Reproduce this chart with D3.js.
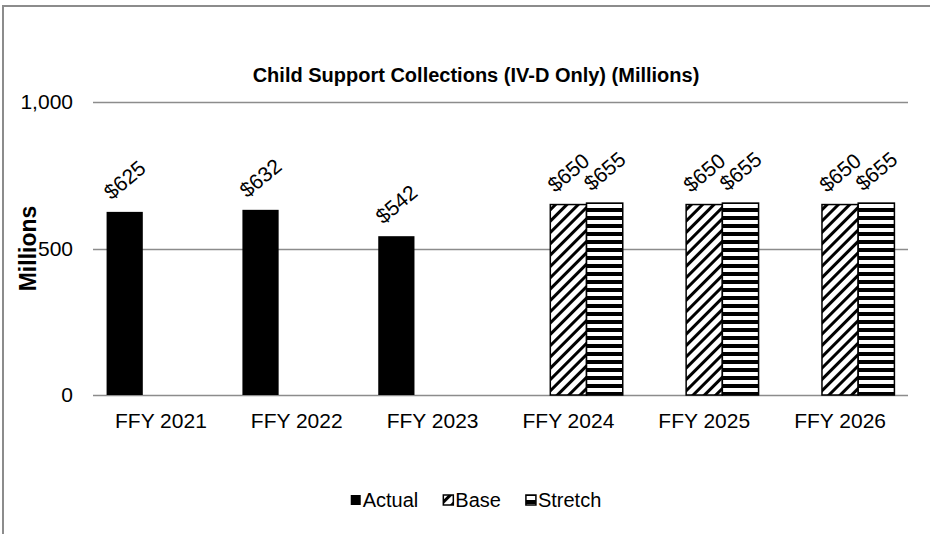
<!DOCTYPE html>
<html>
<head>
<meta charset="utf-8">
<script src="https://cdn.jsdelivr.net/npm/d3@7"></script>
<style>
  html, body { margin: 0; padding: 0; background: #fff; }
  svg { display: block; }
  text { font-family: "Liberation Sans", Arial, Helvetica, sans-serif; fill: #000; }
</style>
</head>
<body>
<svg id="chart" width="930" height="534"></svg>
<script>
// ---- data ----
const categories = ["FFY 2021", "FFY 2022", "FFY 2023", "FFY 2024", "FFY 2025", "FFY 2026"];
const seriesNames = ["Actual", "Base", "Stretch"];
const actualValues  = [625, 632, 542, null, null, null];
const baseValues    = [null, null, null, 650, 650, 650];
const stretchValues = [null, null, null, 655, 655, 655];
const yTickValues = [0, 500, 1000];
const chartTitle = "Child Support Collections (IV-D Only) (Millions)";
const yAxisTitle = "Millions";

const seriesValues = { Actual: actualValues, Base: baseValues, Stretch: stretchValues };

// ---- layout ----
const W = 930, H = 534;
const plot = { left: 93, right: 908, top: 102, bottom: 395 };
const gridColor = "#8c8c8c";
const fontSize = "21px";

const svg = d3.select("#chart");
const defs = svg.append("defs");

// diagonal hatch (Base)
const pDiag = defs.append("pattern")
  .attr("id", "diag").attr("patternUnits", "userSpaceOnUse")
  .attr("width", 8).attr("height", 8)
  .attr("patternTransform", "rotate(45)");
pDiag.append("rect").attr("width", 8).attr("height", 8).attr("fill", "#fff");
pDiag.append("rect").attr("x", 0).attr("y", 0).attr("width", 3).attr("height", 8).attr("fill", "#000");

// horizontal stripes (Stretch)
const pHor = defs.append("pattern")
  .attr("id", "horiz").attr("patternUnits", "userSpaceOnUse")
  .attr("width", 8).attr("height", 8);
pHor.append("rect").attr("width", 8).attr("height", 8).attr("fill", "#fff");
pHor.append("rect").attr("x", 0).attr("y", 0).attr("width", 8).attr("height", 4).attr("fill", "#000");

const fills = { Actual: "#000", Base: "url(#diag)", Stretch: "url(#horiz)" };
const strokes = { Actual: "none", Base: "#000", Stretch: "#000" };

// frame
svg.append("rect")
  .attr("x", 3).attr("y", 6).attr("width", W + 20).attr("height", H + 20)
  .attr("fill", "#fff").attr("stroke", "#8c8c8c").attr("stroke-width", 2);

// scales
const x = d3.scaleBand().domain(categories).range([plot.left, plot.right]).padding(0);
const groupW = x.bandwidth() * 0.8;
const xs = d3.scaleBand().domain(seriesNames).range([0, groupW]).padding(0);
const y = d3.scaleLinear().domain([0, 1000]).range([plot.bottom, plot.top]);

// title
svg.append("text")
  .attr("x", 476).attr("y", 82)
  .attr("text-anchor", "middle")
  .style("font-size", "20px").style("font-weight", "bold")
  .text(chartTitle);

// gridlines
svg.append("g").selectAll("line").data(yTickValues).join("line")
  .attr("x1", plot.left).attr("x2", plot.right)
  .attr("y1", d => Math.round(y(d)) + 0.5).attr("y2", d => Math.round(y(d)) + 0.5)
  .attr("stroke", gridColor).attr("stroke-width", 1.5);

// y axis labels via d3 axis
const yAxis = d3.axisLeft(y).tickValues(yTickValues).tickSize(0).tickPadding(0)
  .tickFormat(d3.format(","));
const gy = svg.append("g").attr("transform", `translate(73,0)`).call(yAxis);
gy.select(".domain").remove();
gy.selectAll("text").style("font-size", fontSize).attr("fill", "#000")
  .style("font-family", '"Liberation Sans", Arial, sans-serif');

// y axis title
svg.append("text")
  .attr("transform", `translate(36,${(plot.top + plot.bottom) / 2}) rotate(-90)`)
  .attr("text-anchor", "middle")
  .style("font-size", "23px").style("font-weight", "bold")
  .text(yAxisTitle);

// x axis labels via d3 axis
const xAxis = d3.axisBottom(x).tickSize(0).tickPadding(0);
const gx = svg.append("g").attr("transform", `translate(0,${plot.bottom})`).call(xAxis);
gx.select(".domain").remove();
gx.selectAll("text").style("font-size", fontSize).attr("fill", "#000")
  .attr("dy", null).attr("y", 33)
  .style("font-family", '"Liberation Sans", Arial, sans-serif');

// bars
const barData = [];
categories.forEach((c, i) => {
  seriesNames.forEach(s => {
    const v = seriesValues[s][i];
    if (v != null) barData.push({ cat: c, series: s, value: v });
  });
});
const barX = d => x(d.cat) + (x.bandwidth() - groupW) / 2 + xs(d.series);

svg.append("g").selectAll("rect").data(barData).join("rect")
  .attr("x", barX)
  .attr("y", d => y(d.value))
  .attr("width", xs.bandwidth())
  .attr("height", d => y(0) - y(d.value))
  .attr("fill", d => fills[d.series])
  .attr("stroke", d => strokes[d.series])
  .attr("stroke-width", 1.5);

// data labels
svg.append("g").selectAll("text").data(barData).join("text")
  .attr("transform", d => `translate(${barX(d) + xs.bandwidth() / 2},${y(d.value) - 32}) rotate(-40)`)
  .attr("text-anchor", "middle")
  .attr("dy", "0.35em")
  .style("font-size", fontSize)
  .text(d => "$" + d.value);

// legend
const legend = svg.append("g");
const legendItems = legend.selectAll("g").data(seriesNames).join("g");
legendItems.append("rect")
  .attr("x", 0).attr("y", -5).attr("width", 10).attr("height", 10)
  .attr("fill", d => fills[d]).attr("stroke", d => d === "Actual" ? "none" : "#000")
  .attr("stroke-width", 1.5);
legendItems.append("text")
  .attr("x", 12).attr("dy", "0.35em")
  .style("font-size", "20px")
  .text(d => d);
let offs = 0;
const widths = [];
legendItems.each(function () {
  const w = 12 + d3.select(this).select("text").node().getComputedTextLength();
  widths.push(w);
});
const gap = 25;
const total = d3.sum(widths) + gap * (widths.length - 1);
const startX = 476 - total / 2;
legendItems.attr("transform", (d, i) => {
  const tx = startX + offs;
  offs += widths[i] + gap;
  return `translate(${tx},500)`;
});
</script>
</body>
</html>
